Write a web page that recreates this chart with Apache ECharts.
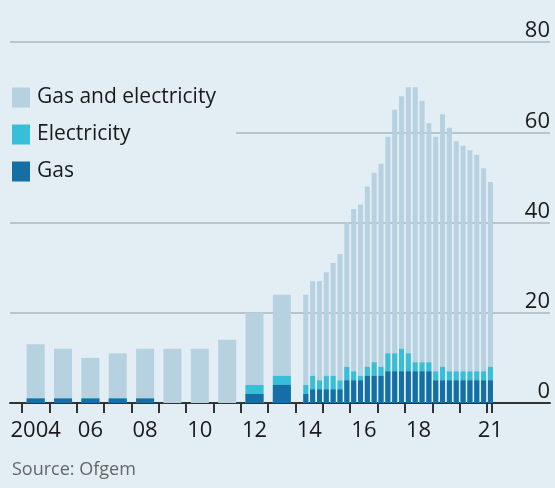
<!DOCTYPE html>
<html>
<head>
<meta charset="utf-8">
<script src="https://cdn.jsdelivr.net/npm/echarts@6/dist/echarts.min.js"></script>
<style>
    html, body { margin: 0; padding: 0; background: #e3edf4; }
    #chart { width: 555px; height: 488px; }
</style>
</head>
<body>
<div id="chart"></div>
<script>
// annual figures, 2004-2013
var years = [2004, 2005, 2006, 2007, 2008, 2009, 2010, 2011, 2012, 2013];
var yearGas = [1, 1, 1, 1, 1, 0, 0, 0, 2, 4];
var yearElec = [0, 0, 0, 0, 0, 0, 0, 0, 2, 2];
var yearDual = [12, 11, 9, 10, 11, 12, 12, 14, 16, 18];

// quarterly figures, 2014 Q2 - 2021 Q1
var quarters = ['2014 Q2', '2014 Q3', '2014 Q4',
    '2015 Q1', '2015 Q2', '2015 Q3', '2015 Q4',
    '2016 Q1', '2016 Q2', '2016 Q3', '2016 Q4',
    '2017 Q1', '2017 Q2', '2017 Q3', '2017 Q4',
    '2018 Q1', '2018 Q2', '2018 Q3', '2018 Q4',
    '2019 Q1', '2019 Q2', '2019 Q3', '2019 Q4',
    '2020 Q1', '2020 Q2', '2020 Q3', '2020 Q4',
    '2021 Q1'];
var quarterGas = [2, 3, 3, 3, 3, 3, 5, 5, 5, 6, 6, 6, 7, 7, 7, 7, 7, 7, 7, 5, 5, 5, 5, 5, 5, 5, 5, 5];
var quarterElec = [2, 3, 2, 3, 3, 2, 3, 2, 1, 2, 3, 2, 4, 4, 5, 4, 2, 2, 2, 2, 3, 2, 2, 2, 2, 2, 2, 3];
var quarterDual = [20, 21, 22, 23, 25, 28, 32, 36, 38, 40, 42, 45, 48, 54, 56, 59, 61, 58, 53, 52, 56, 54, 51, 50, 49, 48, 45, 41];

// x axis ticks and labels
var tickYears = [2004, 2005, 2006, 2007, 2008, 2009, 2010, 2011, 2012, 2013, 2014, 2015, 2016, 2017, 2018, 2019, 2020, 2021, 2021.18];
var labelYears = [2004.5, 2006.5, 2008.5, 2010.5, 2012.5, 2014.5, 2016.5, 2018.5, 2021.12];
var labelText = ['2004', '06', '08', '10', '12', '14', '16', '18', '21'];

var font = 'Open Sans';
var colors = { dual: '#b6d1e0', elec: '#38bed6', gas: '#156ea4' };

// bars are drawn over each other, so each layer is the running total
function cumulative(parts) {
    return parts[0].map(function (v, i) {
        var s = 0;
        parts.forEach(function (p) { s += p[i]; });
        return s;
    });
}
function yearPoints(vals) {
    return years.map(function (y, i) { return [y + 0.5, vals[i]]; });
}
function quarterPoints(vals) {
    return quarters.map(function (q, i) {
        var y = parseInt(q.slice(0, 4), 10);
        var n = parseInt(q.slice(-1), 10);
        return [y + (n - 0.5) / 4, vals[i]];
    });
}
function barSeries(name, color, axis, width, data) {
    return {
        name: name, type: 'bar', xAxisIndex: axis, barGap: '-100%',
        barWidth: width, itemStyle: { color: color }, data: data
    };
}

var chart = echarts.init(document.getElementById('chart'));
var xMin = 2003.561, xMax = 2023.303;

var option = {
    animation: false,
    backgroundColor: '#e3edf4',
    grid: { left: 10, right: 5, top: 42, bottom: 85, outerBoundsMode: 'none' },
    legend: {
        orient: 'vertical', left: 10, top: 85,
        data: ['Gas and electricity', 'Electricity', 'Gas'],
        icon: 'rect', itemWidth: 18, itemHeight: 20, itemGap: 16,
        padding: [2, 20, 2, 2],
        backgroundColor: '#e3edf4',
        selectedMode: false,
        textStyle: { fontFamily: font, fontSize: 21, color: '#1a1a1a', padding: [0, 0, 0, 2] }
    },
    xAxis: [
        {
            type: 'value', min: xMin, max: xMax,
            splitLine: { show: false },
            axisLine: { show: true, lineStyle: { color: '#333', width: 2 } },
            axisTick: { show: true, customValues: tickYears, length: 10, lineStyle: { color: '#333', width: 2 } },
            axisLabel: {
                customValues: labelYears, margin: 17,
                fontFamily: font, fontSize: 22, color: '#1a1a1a',
                formatter: function (v) {
                    for (var i = 0; i < labelYears.length; i++) {
                        if (Math.abs(labelYears[i] - v) < 0.01) return labelText[i];
                    }
                    return '';
                }
            }
        },
        { type: 'value', min: xMin, max: xMax, show: false }
    ],
    yAxis: {
        type: 'value', position: 'right', min: 0, max: 80, interval: 20,
        axisLine: { show: false },
        axisTick: { show: false },
        splitLine: { lineStyle: { color: '#b9c4cb', width: 2 } },
        axisLabel: {
            inside: true, margin: 0, align: 'right', verticalAlign: 'bottom',
            fontFamily: font, fontSize: 22, color: '#1a1a1a'
        }
    },
    graphic: [{
        type: 'text', left: 12, top: 461,
        style: { text: 'Source: Ofgem', fontFamily: font, fontSize: 18, fill: '#666' }
    }],
    series: [
        barSeries('Gas and electricity', colors.dual, 0, 18, yearPoints(cumulative([yearGas, yearElec, yearDual]))),
        barSeries('Electricity', colors.elec, 0, 18, yearPoints(cumulative([yearGas, yearElec]))),
        barSeries('Gas', colors.gas, 0, 18, yearPoints(yearGas)),
        barSeries('Gas and electricity', colors.dual, 1, 5, quarterPoints(cumulative([quarterGas, quarterElec, quarterDual]))),
        barSeries('Electricity', colors.elec, 1, 5, quarterPoints(cumulative([quarterGas, quarterElec]))),
        barSeries('Gas', colors.gas, 1, 5, quarterPoints(quarterGas))
    ]
};
chart.setOption(option);
</script>
</body>
</html>
